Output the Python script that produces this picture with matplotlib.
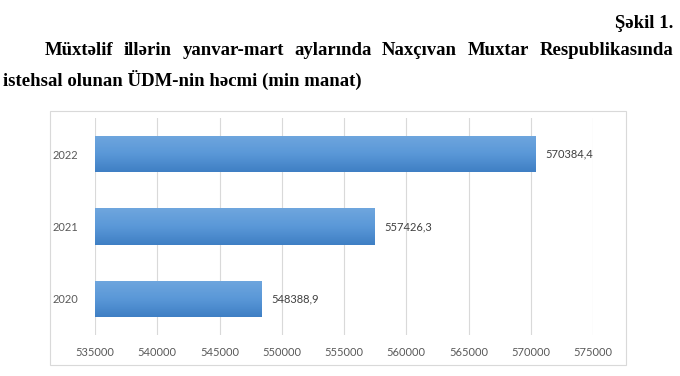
import matplotlib.pyplot as plt
import numpy as np
from matplotlib.patches import Rectangle

years = ["2020", "2021", "2022"]
values = [548388.9, 557426.3, 570384.4]
value_labels = ["548388,9", "557426,3", "570384,4"]
x_ticks = [535000, 540000, 545000, 550000, 555000, 560000, 565000, 570000, 575000]

caption = "Şəkil 1."
title_line1 = "Müxtəlif illərin yanvar-mart aylarında Naxçıvan Muxtar Respublikasında"
title_line2 = "istehsal olunan ÜDM-nin həcmi (min manat)"

W, H = 680, 376
fig = plt.figure(figsize=(W / 100, H / 100), dpi=100)
fig.patch.set_facecolor("white")

serif = dict(family="Liberation Serif", weight="bold", fontsize=13.5, color="black")
fig.text(673 / W, 1 - 28 / H, caption, ha="right", va="baseline", **serif)

# justified first title line
renderer = fig.canvas.get_renderer()
words = title_line1.split()
widths = []
for w in words:
    t = fig.text(0, 0, w, **serif)
    widths.append(t.get_window_extent(renderer).width)
    t.remove()
x0, x1 = 45, 673
gap = (x1 - x0 - sum(widths)) / (len(words) - 1)
x = x0
for w, wd in zip(words, widths):
    fig.text(x / W, 1 - 55 / H, w, ha="left", va="baseline", **serif)
    x += wd + gap
fig.text(3 / W, 1 - 86 / H, title_line2, ha="left", va="baseline", **serif)

# chart frame
fig.patches.append(Rectangle((50 / W, 1 - 365 / H), 576 / W, 254 / H,
                             transform=fig.transFigure, fill=False,
                             edgecolor="#d9d9d9", linewidth=0.8))

ax = fig.add_axes([95 / W, 1 - 335 / H, 498 / W, 217 / H])
ypos = np.arange(len(years))
bars = ax.barh(ypos, [v - x_ticks[0] for v in values], left=x_ticks[0],
               height=0.5, color="#5b9bd5", zorder=2)

# vertical gradient inside each bar
grad = np.linspace(0, 1, 100).reshape(-1, 1)
cmap = plt.matplotlib.colors.LinearSegmentedColormap.from_list(
    "bar", ["#3f7fc4", "#5a98d8", "#6fa6de"])
for b in bars:
    x_l, y_b = b.get_x(), b.get_y()
    im = ax.imshow(grad, cmap=cmap, aspect="auto", origin="lower",
                   extent=(x_l, x_l + b.get_width(), y_b, y_b + b.get_height()),
                   zorder=3)
    im.set_clip_path(b)

for y, v, lab in zip(ypos, values, value_labels):
    ax.annotate(lab, (v, y), xytext=(7, 0), textcoords="offset points",
                ha="left", va="center", fontsize=8, family="Lato", color="#404040")

ax.set_xlim(x_ticks[0], x_ticks[-1])
ax.set_ylim(-0.5, len(years) - 0.5)
ax.set_xticks(x_ticks)
ax.set_xticklabels([str(t) for t in x_ticks], family="Lato", fontsize=8, color="#595959")
ax.set_yticks(ypos)
ax.set_yticklabels(years, family="Lato", fontsize=8, color="#595959")
ax.tick_params(length=0, pad=9)
ax.tick_params(axis="y", pad=12)
ax.grid(axis="x", color="#d9d9d9", linewidth=0.8, zorder=0)
for s in ax.spines.values():
    s.set_visible(False)

fig.savefig("out.png", dpi=100)
